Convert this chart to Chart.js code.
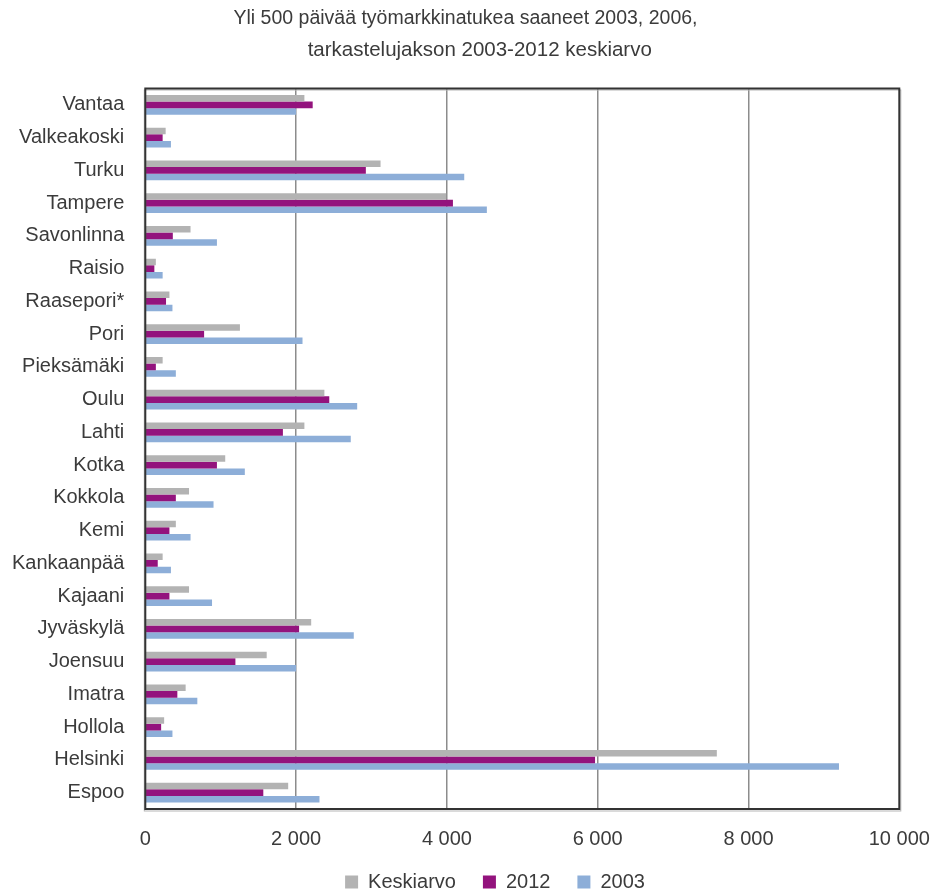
<!DOCTYPE html>
<html lang="fi">
<head>
<meta charset="utf-8">
<title>Työmarkkinatuki</title>
<script src="https://cdn.jsdelivr.net/npm/chart.js@4/dist/chart.umd.min.js"></script>
<style>
    html, body { margin: 0; padding: 0; background: #fff; }
    #wrap { width: 931px; height: 891px; }
</style>
</head>
<body>
<div id="wrap"><canvas id="grafiikka"></canvas></div>
<script>
// Kunnat ylhäältä alas
const kunnat = ['Vantaa', 'Valkeakoski', 'Turku', 'Tampere', 'Savonlinna', 'Raisio', 'Raasepori*', 'Pori',
    'Pieksämäki', 'Oulu', 'Lahti', 'Kotka', 'Kokkola', 'Kemi', 'Kankaanpää', 'Kajaani', 'Jyväskylä',
    'Joensuu', 'Imatra', 'Hollola', 'Helsinki', 'Espoo'];

const keskiarvo = [2110, 270, 3120, 3990, 600, 140, 320, 1255, 230, 2375, 2110, 1060, 580, 405, 230, 580, 2200, 1610, 535, 250, 7580, 1895];
const vuosi2012 = [2220, 230, 2925, 4080, 365, 120, 275, 780, 140, 2440, 1825, 950, 405, 320, 165, 320, 2040, 1195, 425, 210, 5965, 1565];
const vuosi2003 = [2000, 340, 4230, 4530, 950, 230, 360, 2085, 405, 2810, 2725, 1320, 905, 600, 340, 885, 2765, 2000, 690, 360, 9200, 2310];

const xTicks = [0, 2000, 4000, 6000, 8000, 10000];

const fontti = 'Liberation Sans';
const tekstiVari = '#3b3b3b';

// "2 000" -tyylinen muotoilu
function tuhannet(v) {
    return String(v).replace(/\B(?=(\d{3})+(?!\d))/g, ' ');
}

// Kehys kuvaajan ympärille
const kehys = {
    id: 'kehys',
    afterDraw(chart) {
        const { ctx, chartArea: a } = chart;
        ctx.save();
        ctx.strokeStyle = '#b5b5b5';
        ctx.lineWidth = 1;
        ctx.strokeRect(a.left - 1, a.top + 1.5, a.right - a.left + 2.5, a.bottom - a.top + 0.5);
        ctx.strokeStyle = '#333';
        ctx.lineWidth = 2;
        ctx.strokeRect(a.left, a.top, a.right - a.left, a.bottom - a.top);
        ctx.restore();
    }
};

// Selite hieman oikealle ja ylemmäs
const seliteSiirto = {
    id: 'seliteSiirto',
    afterLayout(chart) {
        const l = chart.legend;
        if (!l) return;
        l.left += 59;
        l.top -= 24;
        l.bottom -= 24;
    }
};

new Chart(document.getElementById('grafiikka'), {
    type: 'bar',
    data: {
        labels: kunnat,
        datasets: [
            { label: 'Keskiarvo', data: keskiarvo, backgroundColor: '#b3b3b3' },
            { label: '2012', data: vuosi2012, backgroundColor: '#93137d' },
            { label: '2003', data: vuosi2003, backgroundColor: '#8daed8' }
        ]
    },
    options: {
        indexAxis: 'y',
        responsive: true,
        maintainAspectRatio: false,
        animation: false,
        layout: { padding: { top: 0, right: 0, bottom: -35, left: 0 } },
        datasets: {
            bar: { barPercentage: 1, categoryPercentage: 0.61, borderWidth: 0 }
        },
        scales: {
            x: {
                min: 0,
                max: 10000,
                afterBuildTicks: (scale) => { scale.ticks = xTicks.map(v => ({ value: v })); },
                // oikean reunan tila "10 000" -tekstille
                afterFit: (scale) => { scale.paddingRight = 31.7; scale.paddingLeft = 0; },
                grid: {
                    drawTicks: false,
                    lineWidth: 1.5,
                    color: (c) => (c.tick && (c.tick.value === 0 || c.tick.value === 10000)) ? 'rgba(0,0,0,0)' : '#8c8c8c'
                },
                border: { display: false },
                ticks: {
                    padding: 20,
                    color: tekstiVari,
                    font: { family: fontti, size: 20, lineHeight: 1 },
                    maxRotation: 0,
                    callback: (v) => tuhannet(v)
                }
            },
            y: {
                afterFit: (scale) => { scale.width = 145.3; },
                grid: { display: false, drawTicks: false },
                border: { display: false },
                ticks: {
                    padding: 21,
                    color: tekstiVari,
                    font: { family: fontti, size: 20, lineHeight: 1 }
                }
            }
        },
        plugins: {
            title: {
                display: true,
                text: 'Yli 500 päivää työmarkkinatukea saaneet 2003, 2006,',
                color: tekstiVari,
                font: { family: fontti, size: 19.5, weight: 'normal', lineHeight: 1 },
                padding: { top: 9, bottom: 0 }
            },
            subtitle: {
                display: true,
                text: '     tarkastelujakson 2003-2012 keskiarvo',
                color: tekstiVari,
                font: { family: fontti, size: 20.5, weight: 'normal', lineHeight: 1 },
                padding: { top: 11.25, bottom: 28.25 }
            },
            legend: {
                position: 'bottom',
                labels: {
                    boxWidth: 13,
                    boxHeight: 13,
                    padding: 27,
                    color: tekstiVari,
                    font: { family: fontti, size: 20 }
                }
            },
            tooltip: { enabled: false }
        }
    },
    plugins: [kehys, seliteSiirto]
});
</script>
</body>
</html>
